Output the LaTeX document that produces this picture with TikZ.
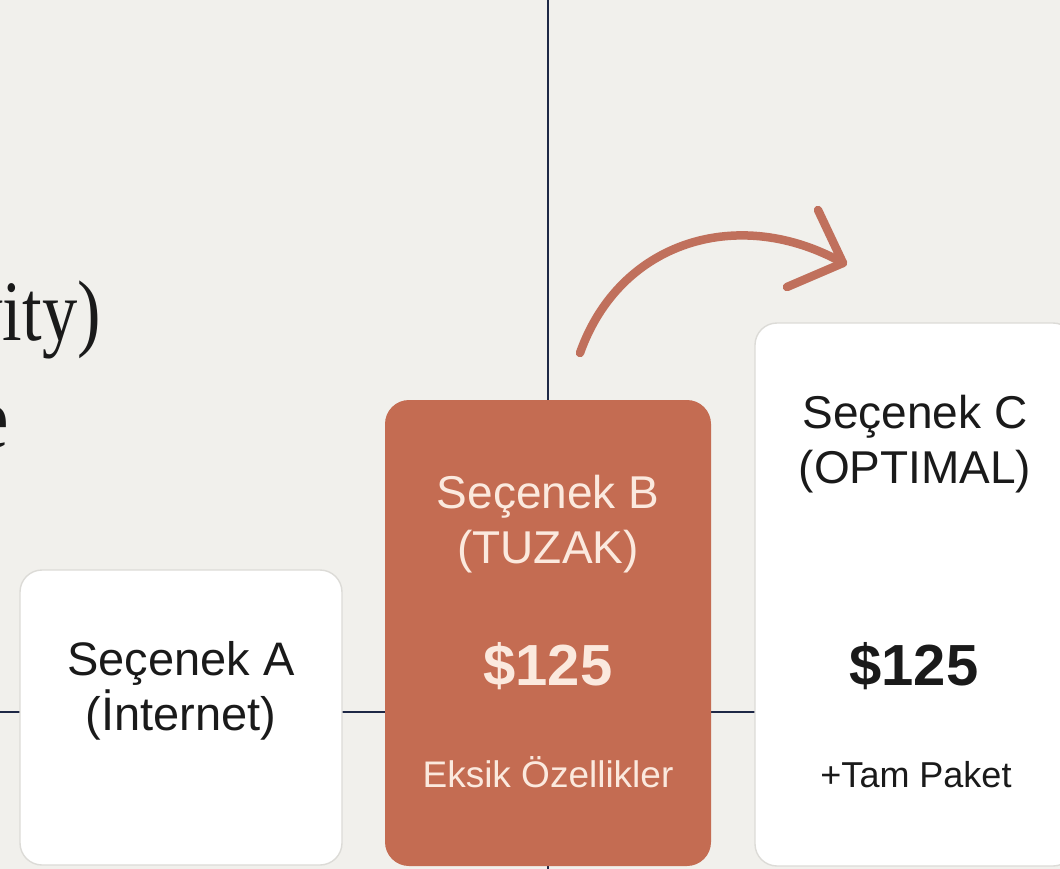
\documentclass[tikz,border=0pt]{standalone}
\usepackage{fontspec}
\setmainfont{Liberation Sans}
\newfontfamily\serifface{Liberation Serif}
\definecolor{bgc}{HTML}{F1F0EC}
\definecolor{navy}{HTML}{1E2846}
\definecolor{terra}{HTML}{C46C52}
\definecolor{arrowc}{HTML}{C0705C}
\definecolor{peach}{HTML}{FBE9DE}
\definecolor{ink}{HTML}{1A1A1A}
\definecolor{edgec}{HTML}{DCDBD7}
\tikzset{
  whitebox/.style={draw=edgec, line width=1.4pt, fill=white, rounded corners=22pt, inner sep=0pt},
  trapbox/.style={fill=terra, rounded corners=24pt, inner sep=0pt},
  guide/.style={draw=navy, line width=2.8pt},
  lbl/.style={inner sep=0pt, anchor=base, text=ink},
  lbltrap/.style={inner sep=0pt, anchor=base, text=peach},
  curvearrow/.style={draw=arrowc, line width=8.5pt, line cap=round, line join=round},
}
\begin{document}
\begin{tikzpicture}[x=1pt,y=-1pt]
\useasboundingbox (0,0) rectangle (1060,869);
\clip (0,0) rectangle (1060,869);
\fill[bgc] (0,0) rectangle (1060,869);
% serif fragments
\node[inner sep=0pt, anchor=base east, text=ink] (t1) at (101,340) {\scalebox{0.82}[1]{\serifface\fontsize{86}{100}\selectfont vity)}};
\node[inner sep=0pt, anchor=base east, text=ink] (t2) at (9,447) {\scalebox{0.82}[1]{\serifface\fontsize{86}{100}\selectfont e}};
% guide lines
\coordinate (vt) at (548,0);
\coordinate (vb) at (548,869);
\coordinate (hl) at (0,712);
\coordinate (hr) at (1060,712);
\draw[guide] (vt) -- (vb);
\draw[guide] (hl) -- (hr);
% boxes
\node[whitebox, minimum width=322pt, minimum height=295pt] (A) at (181,717.5) {};
\node[trapbox, minimum width=326pt, minimum height=466pt] (B) at (548,633) {};
\node[whitebox, minimum width=320pt, minimum height=543pt] (C) at (915,594.5) {};
% texts A
\node[lbl, font=\fontsize{47}{56}\selectfont] (a1) at (181,675) {Seçenek A};
\node[lbl, font=\fontsize{47}{56}\selectfont] (a2) at (181,730) {(İnternet)};
% texts B
\node[lbltrap, font=\fontsize{46}{55}\selectfont] (b1) at (548,508) {Seçenek B};
\node[lbltrap, font=\fontsize{46}{55}\selectfont] (b2) at (548,563) {(TUZAK)};
\node[lbltrap, font=\fontsize{58}{66}\selectfont\bfseries] (b3) at (548,685) {\$125};
\node[lbltrap, font=\fontsize{37}{44}\selectfont] (b4) at (548,787) {Eksik Özellikler};
% texts C
\node[lbl, font=\fontsize{46}{55}\selectfont] (c1) at (915,428) {Seçenek C};
\node[lbl, font=\fontsize{46}{55}\selectfont] (c2) at (915,483) {(OPTIMAL)};
\node[lbl, font=\fontsize{58}{66}\selectfont\bfseries] (c3) at (914,685) {\$125};
\node[lbl, font=\fontsize{36}{42}\selectfont] (c4) at (916,787) {+Tam Paket};
% curved arrow
\coordinate (as) at (580,353);
\coordinate (ae) at (843,263);
\coordinate (h1) at (818,210);
\coordinate (h2) at (787,287);
\draw[curvearrow] (as) .. controls (620,240) and (740,205) .. (ae);
\draw[curvearrow] (h1) -- (ae) -- (h2);
\end{tikzpicture}
\end{document}
